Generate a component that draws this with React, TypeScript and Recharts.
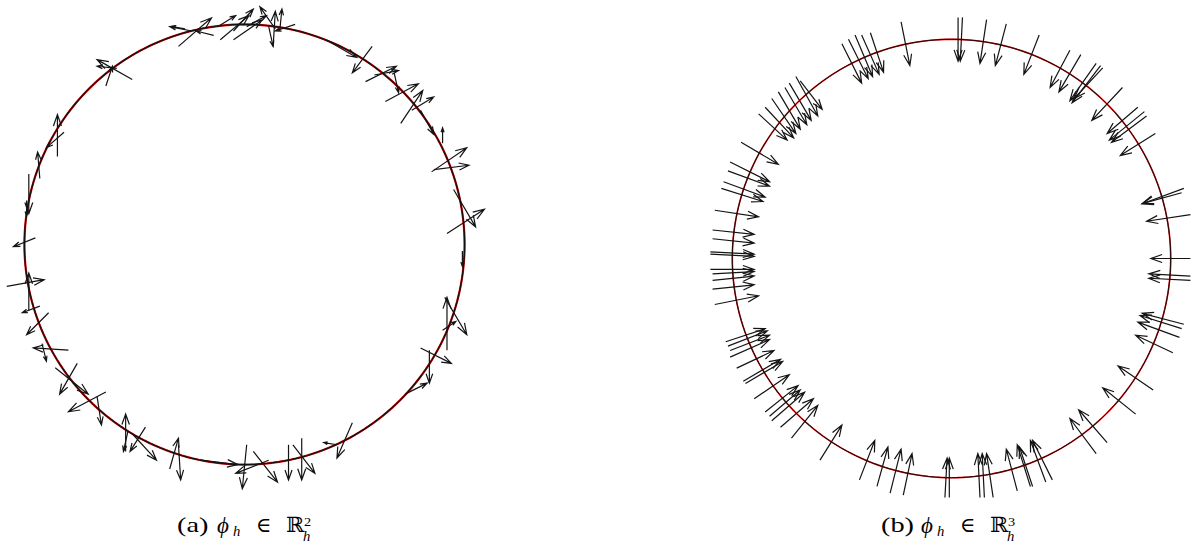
import React from 'react';
import { ScatterChart, Scatter, XAxis, YAxis } from 'recharts';

// each arrow: [x0, y0, x1, y1] on the unit circle (tail -> tip)
type Arrow = [number, number, number, number];

const arrowsA: Arrow[] = [
  [-0.24, 0.97, -0.34, 0.99], [-0.27, 0.98, -0.33, 0.99], [-0.30, 0.90, -0.15, 1.03],
  [-0.14, 0.95, -0.22, 0.97], [-0.11, 0.93, 0.02, 1.04], [-0.12, 0.99, -0.04, 1.04],
  [-0.05, 0.97, 0.04, 1.07], [-0.05, 0.93, 0.08, 1.02], [0.01, 0.99, 0.10, 1.04],
  [0.13, 0.90, 0.14, 1.06], [0.16, 0.97, 0.17, 1.07], [0.14, 0.98, 0.07, 1.08],
  [0.23, 1.00, 0.14, 0.97], [0.11, 0.99, 0.13, 0.90], [0.37, 0.93, 0.51, 0.85],
  [0.58, 0.90, 0.49, 0.78], [0.55, 0.74, 0.69, 0.81], [0.59, 0.77, 0.70, 0.79],
  [0.64, 0.65, 0.79, 0.73], [0.68, 0.78, 0.70, 0.69], [0.71, 0.55, 0.81, 0.70],
  [0.76, 0.61, 0.86, 0.67], [0.80, 0.61, 0.86, 0.50], [0.90, 0.46, 0.90, 0.53],
  [0.85, 0.33, 1.01, 0.44], [0.86, 0.34, 1.02, 0.36], [0.95, 0.25, 1.05, 0.08],
  [0.92, 0.05, 1.09, 0.16], [0.99, -0.03, 0.99, -0.10], [0.92, -0.48, 0.92, -0.24],
  [0.91, -0.24, 1.01, -0.41], [0.90, -0.39, 0.96, -0.35], [0.80, -0.47, 0.94, -0.54],
  [0.84, -0.48, 0.84, -0.63], [0.73, -0.68, 0.83, -0.63], [0.49, -0.81, 0.42, -0.97],
  [0.42, -0.91, 0.36, -0.90], [0.26, -0.88, 0.26, -1.07], [0.20, -0.91, 0.20, -1.07],
  [0.22, -0.91, 0.32, -1.04], [0.11, -0.98, -0.04, -1.04], [0.04, -0.94, 0.15, -1.08],
  [0.01, -0.91, -0.01, -1.11], [-0.20, -0.98, -0.03, -1.00], [-0.30, -0.91, -0.29, -1.07],
  [-0.34, -1.02, -0.30, -0.88], [-0.51, -0.86, -0.40, -0.98], [-0.45, -0.83, -0.52, -0.94],
  [-0.54, -0.94, -0.54, -0.77], [-0.53, -0.85, -0.55, -0.94], [-0.67, -0.69, -0.65, -0.82],
  [-0.63, -0.67, -0.80, -0.76], [-0.86, -0.56, -0.71, -0.68], [-0.76, -0.54, -0.84, -0.68],
  [-0.80, -0.48, -0.96, -0.47], [-0.92, -0.45, -0.90, -0.53], [-0.89, -0.31, -0.99, -0.41],
  [-0.98, -0.30, -0.98, -0.13], [-0.93, -0.28, -1.01, -0.31], [-1.08, -0.19, -0.91, -0.16],
  [-0.95, 0.03, -1.05, -0.01], [-0.98, 0.32, -0.98, 0.14], [-0.99, 0.20, -0.99, 0.13],
  [-0.93, 0.30, -0.94, 0.42], [-0.82, 0.51, -0.90, 0.44], [-0.85, 0.40, -0.85, 0.59],
  [-0.51, 0.75, -0.67, 0.84], [-0.58, 0.80, -0.67, 0.81], [-0.63, 0.72, -0.60, 0.81],
];

const arrowsB: Arrow[] = [
  [-0.50, 0.98, -0.41, 0.80], [-0.47, 1.00, -0.38, 0.82], [-0.44, 1.02, -0.36, 0.83],
  [-0.41, 1.02, -0.33, 0.84], [-0.37, 1.03, -0.31, 0.85], [-0.23, 1.08, -0.19, 0.88],
  [0.03, 1.10, 0.03, 0.90], [0.05, 1.10, 0.04, 0.90], [0.16, 1.09, 0.13, 0.89],
  [0.25, 1.07, 0.20, 0.88], [0.40, 1.02, 0.33, 0.84], [0.54, 0.95, 0.45, 0.78],
  [0.59, 0.93, 0.49, 0.76], [0.66, 0.89, 0.54, 0.72], [0.68, 0.88, 0.55, 0.71],
  [0.69, 0.87, 0.56, 0.73], [0.78, 0.78, 0.64, 0.63], [0.85, 0.69, 0.71, 0.57],
  [0.88, 0.67, 0.72, 0.54], [0.89, 0.65, 0.73, 0.53], [0.93, 0.57, 0.77, 0.47],
  [1.06, 0.32, 0.87, 0.25], [1.05, 0.30, 0.87, 0.25], [1.09, 0.20, 0.89, 0.17],
  [1.09, 0.00, 0.91, 0.00], [1.09, -0.08, 0.90, -0.07], [1.09, -0.10, 0.90, -0.09],
  [1.06, -0.30, 0.87, -0.25], [1.05, -0.32, 0.86, -0.26], [1.04, -0.36, 0.85, -0.29],
  [1.01, -0.43, 0.84, -0.35], [0.92, -0.60, 0.76, -0.49], [0.84, -0.71, 0.69, -0.59],
  [0.71, -0.84, 0.58, -0.69], [0.66, -0.89, 0.54, -0.73], [0.46, -1.01, 0.37, -0.83],
  [0.43, -1.02, 0.36, -0.83], [0.37, -1.04, 0.31, -0.86], [0.36, -1.04, 0.30, -0.85],
  [0.30, -1.06, 0.25, -0.87], [0.19, -1.09, 0.16, -0.89], [0.15, -1.09, 0.14, -0.89],
  [0.13, -1.09, 0.12, -0.89], [-0.03, -1.09, -0.02, -0.91], [-0.01, -1.09, -0.01, -0.91],
  [-0.22, -1.08, -0.18, -0.89], [-0.28, -1.07, -0.23, -0.87], [-0.34, -1.04, -0.29, -0.86],
  [-0.42, -1.01, -0.35, -0.83], [-0.60, -0.92, -0.50, -0.76], [-0.73, -0.82, -0.61, -0.67],
  [-0.78, -0.77, -0.63, -0.64], [-0.82, -0.74, -0.67, -0.61], [-0.83, -0.72, -0.69, -0.60],
  [-0.85, -0.70, -0.70, -0.58], [-0.90, -0.64, -0.74, -0.53], [-0.95, -0.56, -0.78, -0.46],
  [-0.94, -0.57, -0.77, -0.47], [-0.98, -0.50, -0.81, -0.42], [-1.01, -0.45, -0.83, -0.37],
  [-1.01, -0.42, -0.83, -0.35], [-1.02, -0.40, -0.84, -0.33], [-1.03, -0.38, -0.85, -0.32],
  [-1.08, -0.21, -0.88, -0.17], [-1.09, -0.14, -0.90, -0.12], [-1.09, -0.10, -0.90, -0.08],
  [-1.09, -0.07, -0.90, -0.06], [-1.10, -0.05, -0.90, -0.05], [-1.10, 0.03, -0.90, 0.02],
  [-1.10, 0.02, -0.90, 0.01], [-1.09, 0.09, -0.90, 0.07], [-1.09, 0.13, -0.90, 0.11],
  [-1.08, 0.22, -0.88, 0.19], [-1.05, 0.32, -0.86, 0.26], [-1.04, 0.35, -0.85, 0.28],
  [-1.02, 0.40, -0.83, 0.33], [-1.01, 0.44, -0.83, 0.35], [-0.96, 0.53, -0.79, 0.43],
  [-0.88, 0.66, -0.75, 0.54], [-0.85, 0.69, -0.72, 0.55], [-0.82, 0.73, -0.71, 0.57],
  [-0.79, 0.76, -0.69, 0.59], [-0.76, 0.78, -0.66, 0.61], [-0.74, 0.80, -0.64, 0.63],
  [-0.71, 0.83, -0.61, 0.65], [-0.69, 0.81, -0.59, 0.68],
];

const captionLabels = ['(a)', '(b)'];
const captionPowers = ['2', '3'];

// the unit circle the vectors live on
const circleAngles = Array.from({ length: 241 }, (_, i) => (i * 360) / 240);
const circle = circleAngles.map((d) => ({
  x: Math.cos((d * Math.PI) / 180),
  y: Math.sin((d * Math.PI) / 180),
}));

const DOMAIN: [number, number] = [-1.12, 1.12];

const noDot = () => <g />;

const drawArrow = (props: any) => {
  const pts = props.points;
  if (!pts || pts.length < 2) return <g />;
  const a = pts[0];
  const b = pts[1];
  const ang = Math.atan2(b.y - a.y, b.x - a.x);
  const len = Math.hypot(b.x - a.x, b.y - a.y);
  const h = Math.min(12, len * 0.3);
  const s = 0.34;
  const lx = b.x - h * Math.cos(ang - s);
  const ly = b.y - h * Math.sin(ang - s);
  const rx = b.x - h * Math.cos(ang + s);
  const ry = b.y - h * Math.sin(ang + s);
  return (
    <path
      d={`M${a.x},${a.y}L${b.x},${b.y}M${lx},${ly}L${b.x},${b.y}L${rx},${ry}`}
      stroke="#141414"
      strokeWidth={1.2}
      fill="none"
    />
  );
};

function Quiver({ arrows, size, redWidth, blackWidth }: { arrows: Arrow[]; size: number; redWidth: number; blackWidth: number }) {
  return (
    <ScatterChart width={size} height={size} margin={{ top: 0, right: 0, bottom: 0, left: 0 }}>
      <XAxis type="number" dataKey="x" domain={DOMAIN} allowDataOverflow hide />
      <YAxis type="number" dataKey="y" domain={DOMAIN} allowDataOverflow hide />
      <Scatter data={circle} line={{ stroke: '#e00000', strokeWidth: redWidth }} shape={noDot} isAnimationActive={false} />
      <Scatter data={circle} line={{ stroke: '#111', strokeWidth: blackWidth }} shape={noDot} isAnimationActive={false} />
      {arrows.map((a, i) => (
        <Scatter
          key={i}
          data={[{ x: a[0], y: a[1] }, { x: a[2], y: a[3] }]}
          line={drawArrow}
          shape={noDot}
          isAnimationActive={false}
        />
      ))}
    </ScatterChart>
  );
}

const piece = (left: number, top: number, size: number, lh: number, sx: number, italic = false): React.CSSProperties => ({
  position: 'absolute',
  left,
  top,
  fontSize: size,
  lineHeight: `${lh}px`,
  fontStyle: italic ? 'italic' : 'normal',
  transform: `scaleX(${sx})`,
  transformOrigin: 'left',
  whiteSpace: 'nowrap',
});

function Caption({ idx, dx }: { idx: number; dx: number }) {
  return (
    <div
      style={{
        position: 'absolute', left: dx, top: 0,
        fontFamily: '"Liberation Serif", "DejaVu Serif", serif', color: '#000',
      }}
    >
      <span style={piece(177, 515, 21, 21, 1.35)}>{captionLabels[idx]}</span>
      <span style={piece(217, 514, 23, 23, 1.0, true)}>ϕ</span>
      <span style={piece(233, 527, 14, 10, 1.05, true)}>h</span>
      <span style={piece(256, 515, 21, 21, 1.0)}>∈</span>
      <span style={piece(286, 515, 21, 21, 1.05)}>ℝ</span>
      <span style={piece(304, 517, 13, 9, 1.1)}>{captionPowers[idx]}</span>
      <span style={piece(303, 532, 14, 10, 1.05, true)}>h</span>
    </div>
  );
}

export default function App() {
  return (
    <div style={{ position: 'absolute', left: 0, top: 0, width: 1194, height: 547, background: '#fff', overflow: 'hidden' }}>
      <div style={{ position: 'absolute', left: -2, top: -2 }}>
        <Quiver arrows={arrowsA} size={493} redWidth={2.2} blackWidth={1.3} />
      </div>
      <div style={{ position: 'absolute', left: 706, top: 13 }}>
        <Quiver arrows={arrowsB} size={491} redWidth={1.6} blackWidth={1} />
      </div>
      <Caption idx={0} dx={0} />
      <Caption idx={1} dx={704} />
    </div>
  );
}
